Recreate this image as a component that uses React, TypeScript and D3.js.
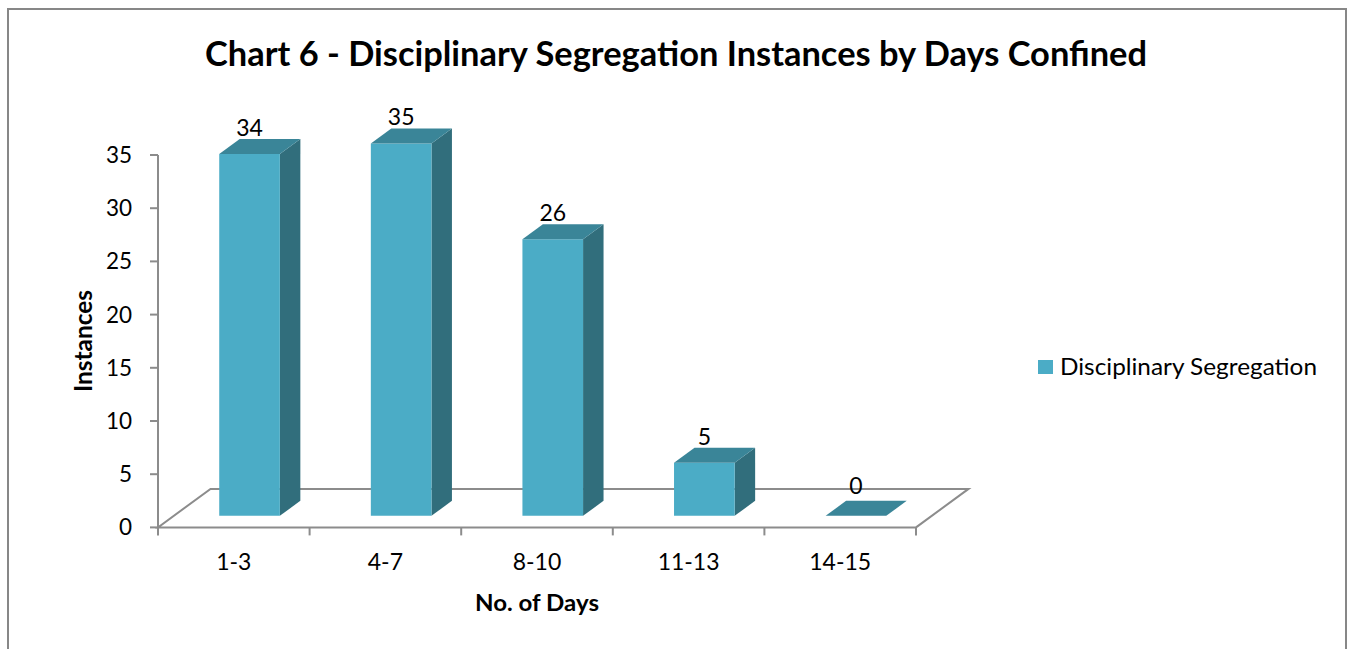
import React from "react";
import * as d3 from "d3";

const categories: string[] = ["1-3", "4-7", "8-10", "11-13", "14-15"];
const values: number[] = [34, 35, 26, 5, 0];
const yTicks: number[] = [0, 5, 10, 15, 20, 25, 30, 35];
const seriesName = "Disciplinary Segregation";
const chartTitle = "Chart 6 - Disciplinary Segregation Instances by Days Confined";
const xTitle = "No. of Days";
const yTitle = "Instances";

const W = 1349;
const H = 649;
const FONT = "Lato, 'Open Sans', sans-serif";

export default function App() {
  const x0 = 158;
  const x1 = 916;
  const yBase = 527.4;
  const yTop = 155;
  const floorDx = 52.5;
  const floorDy = -38.5;

  const x = d3.scaleBand<string>().domain(categories).range([x0, x1]).paddingInner(0).paddingOuter(0);
  const y = d3.scaleLinear().domain([0, 35]).range([yBase, yTop]);

  const bw = x.bandwidth();
  const barW = bw * 0.4;
  const dFront = 0.3;
  const dBack = 0.69;

  const front = "#4BACC6";
  const topC = "#3A8598";
  const sideC = "#316E7C";
  const axisC = "#8C8C8C";

  const line = d3.line<[number, number]>();

  const bars = categories.map((c, i) => {
    const v = values[i];
    const fx = (x(c) as number) + (bw - barW) / 2 + floorDx * dFront;
    const fyB = yBase + floorDy * dFront;
    const h = yBase - y(v);
    const fyT = fyB - h;
    const ddx = floorDx * (dBack - dFront);
    const ddy = floorDy * (dBack - dFront);
    const frontPts: [number, number][] = [[fx, fyB], [fx + barW, fyB], [fx + barW, fyT], [fx, fyT]];
    const topPts: [number, number][] = [[fx, fyT], [fx + barW, fyT], [fx + barW + ddx, fyT + ddy], [fx + ddx, fyT + ddy]];
    const sidePts: [number, number][] = [[fx + barW, fyB], [fx + barW + ddx, fyB + ddy], [fx + barW + ddx, fyT + ddy], [fx + barW, fyT]];
    return (
      <g key={c}>
        {h > 0 && <path d={line(sidePts) + "Z"} fill={sideC} />}
        {h > 0 && <path d={line(frontPts) + "Z"} fill={front} />}
        <path d={line(topPts) + "Z"} fill={topC} />
        <text
          x={fx + barW / 2}
          y={fyT + ddy - (v === 0 ? 7 : 3)}
          textAnchor="middle"
          fontFamily={FONT}
          fontSize={23}
          fill="#000"
        >
          {v}
        </text>
      </g>
    );
  });

  const floorPts: [number, number][] = [
    [x0, yBase],
    [x1, yBase],
    [x1 + floorDx, yBase + floorDy],
    [x0 + floorDx, yBase + floorDy],
  ];

  const boundaries = [x0, ...categories.map((c) => (x(c) as number) + bw)];

  return (
    <svg width={W} height={H} style={{ position: "absolute", left: 0, top: 0 }}>
      <rect x={0} y={0} width={W} height={H} fill="#fff" />
      <rect x={8} y={9} width={1338} height={700} fill="#fff" stroke="#878787" strokeWidth={2} />
      <text
        x={676}
        y={66}
        textAnchor="middle"
        fontFamily={FONT}
        fontWeight="bold"
        fontSize={35}
        textLength={942}
        lengthAdjust="spacingAndGlyphs"
        fill="#000"
      >
        {chartTitle}
      </text>

      {/* floor */}
      <path d={line(floorPts) + "Z"} fill="none" stroke={axisC} strokeWidth={2} />
      {/* y axis */}
      <line x1={x0} y1={yTop} x2={x0} y2={yBase} stroke={axisC} strokeWidth={2} />
      {yTicks.map((t) => (
        <g key={t}>
          <line x1={x0 - 8} y1={y(t)} x2={x0} y2={y(t)} stroke={axisC} strokeWidth={2} />
          <text x={132} y={y(t) + 8} textAnchor="end" fontFamily={FONT} fontSize={22.5} fill="#000">
            {t}
          </text>
        </g>
      ))}
      {boundaries.map((b, i) => (
        <line key={i} x1={b} y1={yBase} x2={b} y2={yBase + 8} stroke={axisC} strokeWidth={2} />
      ))}
      {categories.map((c) => (
        <text
          key={c}
          x={(x(c) as number) + bw / 2}
          y={570}
          textAnchor="middle"
          fontFamily={FONT}
          fontSize={23}
          fill="#000"
        >
          {c}
        </text>
      ))}

      {bars}

      <text
        x={537}
        y={611}
        textAnchor="middle"
        fontFamily={FONT}
        fontWeight="bold"
        fontSize={23}
        textLength={124}
        lengthAdjust="spacingAndGlyphs"
        fill="#000"
      >
        {xTitle}
      </text>
      <text
        transform="translate(92,341) rotate(-90)"
        textAnchor="middle"
        fontFamily={FONT}
        fontWeight="bold"
        fontSize={24}
        textLength={102}
        lengthAdjust="spacingAndGlyphs"
        fill="#000"
      >
        {yTitle}
      </text>

      {/* legend */}
      <rect x={1038} y={360} width={15} height={14} fill={front} />
      <text
        x={1060}
        y={375}
        fontFamily={FONT}
        fontSize={24}
        textLength={257}
        lengthAdjust="spacingAndGlyphs"
        fill="#000"
      >
        {seriesName}
      </text>
    </svg>
  );
}
